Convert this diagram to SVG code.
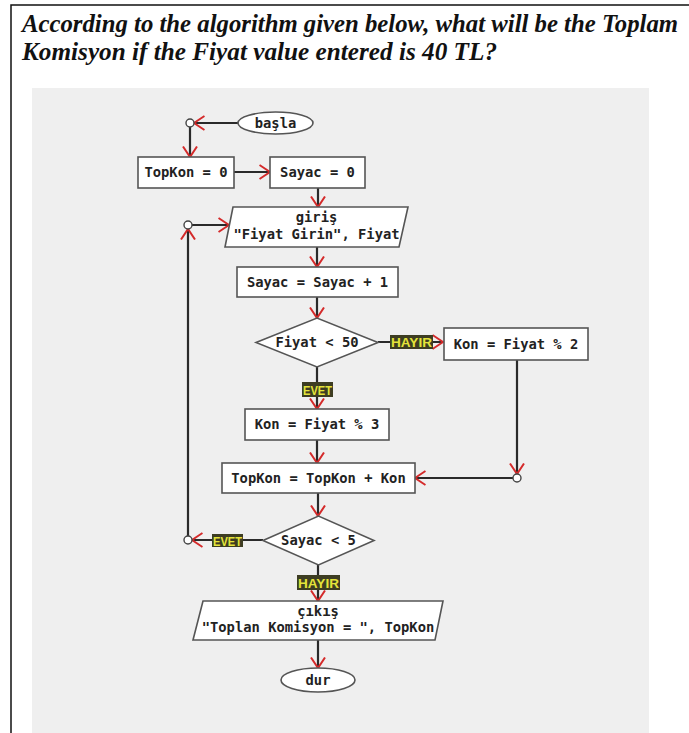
<svg xmlns="http://www.w3.org/2000/svg" width="689" height="733" viewBox="0 0 689 733">
<defs>
<style>
.node{fill:#ffffff;stroke:#555555;stroke-width:1.6}
.t{font-family:"DejaVu Sans Mono","Liberation Mono",monospace;font-weight:bold;font-size:13.8px;fill:#222222;text-anchor:middle}
.c{stroke:#2a2a2a;stroke-width:2.2;fill:none}
.j{fill:#ffffff;stroke:#444444;stroke-width:1.4}
.lb{fill:#3d3d22}
.lt{font-family:"Liberation Sans",Arial,sans-serif;font-weight:bold;font-size:13px;fill:#e4e43a;text-anchor:middle}
.title{font-family:"Liberation Serif","Times New Roman",serif;font-weight:bold;font-style:italic;font-size:25px;fill:#111111}
</style>
<marker id="ah" markerUnits="userSpaceOnUse" viewBox="0 0 12 16" refX="11" refY="8" markerWidth="12" markerHeight="16" orient="auto">
<path d="M0.5,1 L11,8 L0.5,15" fill="none" stroke="#d42a2a" stroke-width="2"/>
</marker>
</defs>
<rect width="689" height="733" fill="#ffffff"/>
<path d="M11,733 V5 H689" fill="none" stroke="#111111" stroke-width="1.5"/>
<text class="title" x="22" y="32" textLength="656" lengthAdjust="spacingAndGlyphs">According to the algorithm given below, what will be the Toplam</text>
<text class="title" x="22" y="60" textLength="475" lengthAdjust="spacingAndGlyphs">Komisyon if the Fiyat value entered is 40 TL?</text>
<rect x="32" y="88" width="617" height="645" fill="#efefef"/>

<g id="connectors">
<path class="c" d="M238,123 H194" marker-end="url(#ah)"/>
<path class="c" d="M190,127 V157" marker-end="url(#ah)"/>
<path class="c" d="M234,172 H270" marker-end="url(#ah)"/>
<path class="c" d="M318,188 V207" marker-end="url(#ah)"/>
<path class="c" d="M192,225 H229" marker-end="url(#ah)"/>
<path class="c" d="M317,247 V267" marker-end="url(#ah)"/>
<path class="c" d="M317,297 V318" marker-end="url(#ah)"/>
<path class="c" d="M378,342 H443" marker-end="url(#ah)"/>
<path class="c" d="M317,367 V409" marker-end="url(#ah)"/>
<path class="c" d="M317,440 V463" marker-end="url(#ah)"/>
<path class="c" d="M517,360 V474" marker-end="url(#ah)"/>
<path class="c" d="M513,478 H415" marker-end="url(#ah)"/>
<path class="c" d="M318,493 V516" marker-end="url(#ah)"/>
<path class="c" d="M263,540 H192" marker-end="url(#ah)"/>
<path class="c" d="M188,536 V229" marker-end="url(#ah)"/>
<path class="c" d="M318,565 V601" marker-end="url(#ah)"/>
<path class="c" d="M318,640 V668" marker-end="url(#ah)"/>
<circle class="j" cx="190" cy="123" r="4"/>
<circle class="j" cx="188" cy="225" r="4"/>
<circle class="j" cx="188" cy="540" r="4"/>
<circle class="j" cx="517" cy="478" r="4"/>
<rect class="lb" x="390" y="335" width="43" height="14"/>
<text class="lt" x="411.5" y="347" textLength="41" lengthAdjust="spacingAndGlyphs">HAYIR</text>
<rect class="lb" x="302" y="382" width="31" height="15"/>
<text class="lt" x="317.5" y="394.5" textLength="29" lengthAdjust="spacingAndGlyphs">EVET</text>
<rect class="lb" x="212" y="534" width="31" height="13"/>
<text class="lt" x="227.5" y="545.5" textLength="29" lengthAdjust="spacingAndGlyphs">EVET</text>
<rect class="lb" x="297" y="575" width="43" height="15"/>
<text class="lt" x="318.5" y="587.5" textLength="41" lengthAdjust="spacingAndGlyphs">HAYIR</text>
</g>

<g id="basla">
<ellipse class="node" cx="275.5" cy="123" rx="37.5" ry="11"/>
<text class="t" x="275.5" y="127.5">başla</text>
</g>
<g id="topkon0">
<rect class="node" x="138" y="157" width="96" height="31"/>
<text class="t" x="186" y="177">TopKon = 0</text>
</g>
<g id="sayac0">
<rect class="node" x="270" y="157" width="95" height="31"/>
<text class="t" x="317.5" y="177">Sayac = 0</text>
</g>
<g id="giris">
<polygon class="node" points="233,207 408,207 399,247 225,247"/>
<text class="t" x="316.5" y="222">giriş</text>
<text class="t" x="316.5" y="239">"Fiyat Girin", Fiyat</text>
</g>
<g id="sayacinc">
<rect class="node" x="237" y="267" width="161" height="30"/>
<text class="t" x="317.5" y="286.5">Sayac = Sayac + 1</text>
</g>
<g id="fiyat50">
<polygon class="node" points="256,342.5 317,318 378,342.5 317,367"/>
<text class="t" x="317" y="347">Fiyat &lt; 50</text>
</g>
<g id="kon2">
<rect class="node" x="444" y="328" width="144" height="32"/>
<text class="t" x="516" y="348.5">Kon = Fiyat % 2</text>
</g>
<g id="kon3">
<rect class="node" x="245" y="409" width="144" height="31"/>
<text class="t" x="317" y="429">Kon = Fiyat % 3</text>
</g>
<g id="topkonadd">
<rect class="node" x="222" y="463" width="193" height="30"/>
<text class="t" x="318.5" y="482.5">TopKon = TopKon + Kon</text>
</g>
<g id="sayac5">
<polygon class="node" points="263,540.5 318.5,516 374,540.5 318.5,565"/>
<text class="t" x="318.5" y="545">Sayac &lt; 5</text>
</g>
<g id="cikis">
<polygon class="node" points="203,601 443,601 435,640 193,640"/>
<text class="t" x="318" y="616">çıkış</text>
<text class="t" x="318" y="632">"Toplan Komisyon = ", TopKon</text>
</g>
<g id="dur">
<ellipse class="node" cx="318" cy="680" rx="37" ry="12"/>
<text class="t" x="318" y="684.5">dur</text>
</g>
</svg>
